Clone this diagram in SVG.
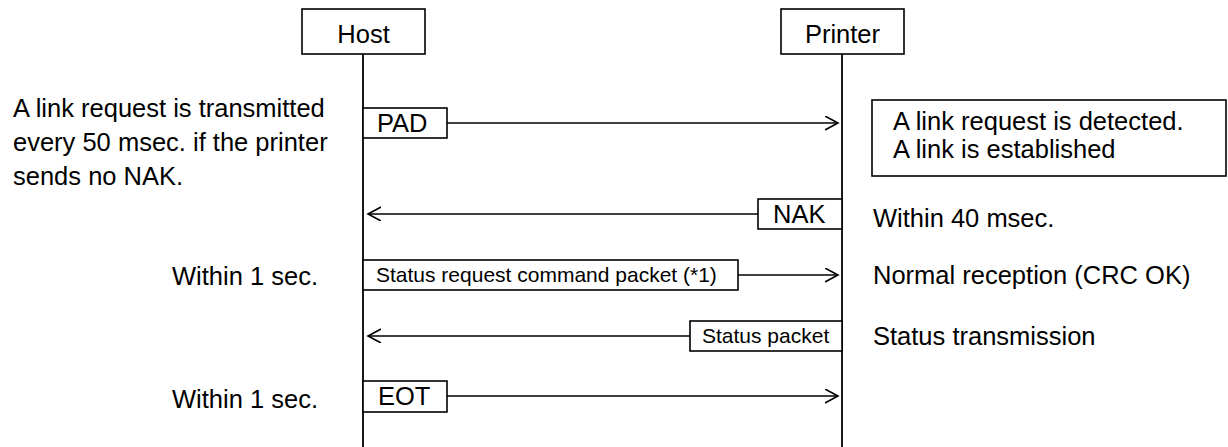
<svg xmlns="http://www.w3.org/2000/svg" width="1228" height="447" viewBox="0 0 1228 447">
<defs>
<style>
.box{fill:#fff;stroke:#000;stroke-width:1.6}
.life{stroke:#000;stroke-width:1.8;fill:none}
.msg{stroke:#000;stroke-width:1.6;fill:none}
.t{font-family:"Liberation Sans",Arial,sans-serif;font-size:25.5px;fill:#000}
.s{font-family:"Liberation Sans",Arial,sans-serif;font-size:21px;fill:#000}
</style>
<marker id="arr" markerUnits="userSpaceOnUse" markerWidth="16" markerHeight="16" refX="13" refY="7" orient="auto">
<path d="M0,0 L13,7 L0,14" fill="none" stroke="#000" stroke-width="1.6"/>
</marker>
</defs>
<rect width="1228" height="447" fill="#fff"/>
<g id="host">
<line class="life" x1="363" y1="54" x2="363" y2="447"/>
<rect class="box" x="302" y="9" width="123" height="45"/>
<text class="t" x="363.5" y="43" text-anchor="middle">Host</text>
</g>
<g id="printer">
<line class="life" x1="842" y1="54" x2="842" y2="447"/>
<rect class="box" x="781" y="9" width="123" height="45"/>
<text class="t" x="842.5" y="43" text-anchor="middle">Printer</text>
</g>
<g id="connectors">
<line class="msg" x1="447" y1="123" x2="838" y2="123" marker-end="url(#arr)"/>
<line class="msg" x1="758" y1="214" x2="368" y2="214" marker-end="url(#arr)"/>
<line class="msg" x1="738" y1="275" x2="838" y2="275" marker-end="url(#arr)"/>
<line class="msg" x1="690" y1="336" x2="368" y2="336" marker-end="url(#arr)"/>
<line class="msg" x1="447" y1="396" x2="838" y2="396" marker-end="url(#arr)"/>
</g>
<g id="pad">
<rect class="box" x="363" y="108" width="84" height="30"/>
<text class="t" x="377" y="132">PAD</text>
</g>
<g id="nak">
<rect class="box" x="758" y="199" width="84" height="30"/>
<text class="t" x="773" y="223">NAK</text>
</g>
<g id="status-request">
<rect class="box" x="363" y="260" width="375" height="30"/>
<text class="s" x="376" y="282">Status request command packet (*1)</text>
</g>
<g id="status-packet">
<rect class="box" x="690" y="321" width="152" height="30"/>
<text class="s" x="702" y="343">Status packet</text>
</g>
<g id="eot">
<rect class="box" x="363" y="381" width="84" height="31"/>
<text class="t" x="378" y="405">EOT</text>
</g>
<g id="note-left">
<text class="t" x="13" y="117">A link request is transmitted</text>
<text class="t" x="13" y="151">every 50 msec. if the printer</text>
<text class="t" x="13" y="185">sends no NAK.</text>
</g>
<g id="within1a"><text class="t" x="172" y="285">Within 1 sec.</text></g>
<g id="within1b"><text class="t" x="172" y="408">Within 1 sec.</text></g>
<g id="note-link">
<rect class="box" x="872" y="100" width="354" height="76"/>
<text class="t" x="893" y="130">A link request is detected.</text>
<text class="t" x="893" y="158">A link is established</text>
</g>
<g id="within40"><text class="t" x="873" y="227">Within 40 msec.</text></g>
<g id="normal"><text class="t" x="873" y="284">Normal reception (CRC OK)</text></g>
<g id="statustx"><text class="t" x="873" y="345">Status transmission</text></g>
</svg>
